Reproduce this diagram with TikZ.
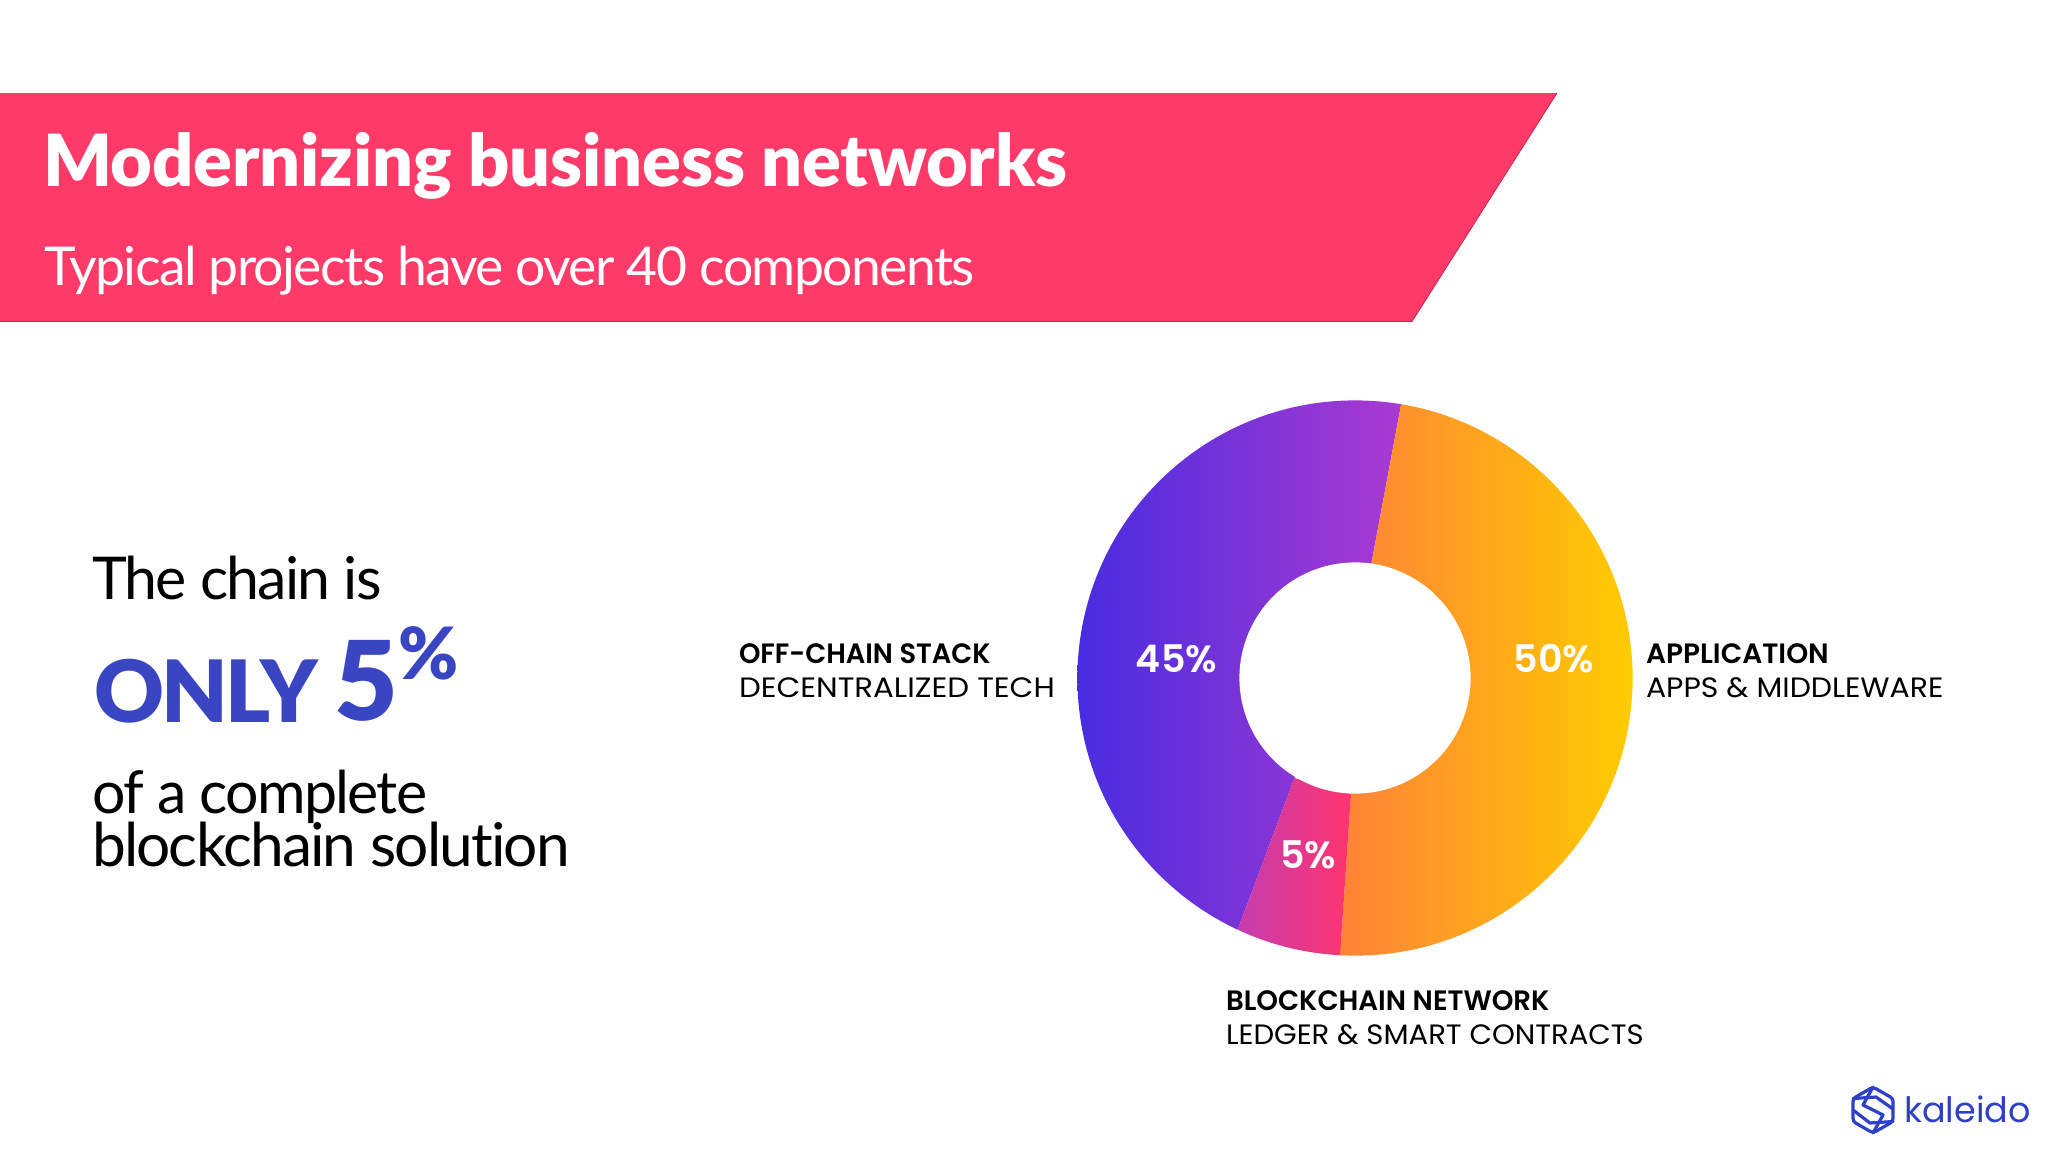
\documentclass[tikz,border=0pt]{standalone}
\usepackage{fontspec}
\setmainfont{Lato}[Ligatures=NoCommon,LetterSpace=-3]
\newfontfamily\latoblack{Lato Black}[LetterSpace=-3]
\newfontfamily\lattitle{Lato Black}[LetterSpace=-0.2]
\newfontfamily\lblfont{Poppins}[BoldFont=* SemiBold]
\usetikzlibrary{calc}
\definecolor{banner}{HTML}{FF3A68}
\definecolor{deep}{HTML}{3A45C2}
\definecolor{logoblue}{HTML}{2F40C8}
\tikzset{
  x=0.5pt,y=-0.5pt,
  txt/.style={anchor=base west,inner sep=0pt,outer sep=0pt},
  lab/.style={txt,font=\lblfont\fontsize{14}{16}\selectfont,text=black},
  labb/.style={lab,font=\lblfont\bfseries\fontsize{14}{16}\selectfont},
  pct/.style={anchor=center,inner sep=0pt,text=white,font=\lblfont\bfseries\fontsize{19}{22}\selectfont},
  logo/.style={draw=logoblue,line width=1.6pt,line join=round,line cap=round}
}
\begin{document}
\begin{tikzpicture}
\useasboundingbox (0,0) rectangle (2048,1152);
\fill[white!99.5!black] (0,0) rectangle (2048,1152);
\fill[banner] (0,93) -- (1557,93) -- (1412,321.5) -- (0,321.5) -- cycle;
\draw[banner!75!black,line width=0.4pt] (0,321.5) -- (1412,321.5) -- (1557,93);
\node[txt,text=white,font=\lattitle\fontsize{36}{40}\selectfont] (title) at (43,186.5) {Modernizing business networks};
\node[txt,text=white,font=\fontsize{26.75}{30}\selectfont] (sub) at (44,285.5) {Typical projects have over 40 components};
\node[txt,font=\fontsize{29.5}{34}\selectfont] (chain) at (92,599) {The chain is};
\node[txt,text=deep,font=\latoblack\fontsize{43}{48}\selectfont] (only) at (94,722) {ONLY};
\node[txt,text=deep,font=\latoblack\fontsize{55}{60}\selectfont] (five) at (334,720) {5};
\node[txt,text=deep,font=\latoblack\fontsize{36}{40}\selectfont] (pc) at (398,679) {\%};
\node[txt,font=\fontsize{29.5}{34}\selectfont] (of) at (92,813) {of a complete};
\node[txt,font=\fontsize{30.2}{34}\selectfont] (block) at (92,866) {blockchain solution};
% donut
\begin{scope}
\clip (1355,678) circle[radius=277.6];
\begin{scope}
\clip (1070,300) -- (1420.6,300) -- (1371.5,563) -- (1355,678) -- (1294.5,778) -- (1238,929) -- (1211.4,1000) -- (1070,1000) -- cycle;
\shade[left color={rgb,255:red,72;green,44;blue,224},right color={rgb,255:red,170;green,58;blue,208}] (1077,390) rectangle (1402,970);
\end{scope}
\begin{scope}
\clip (1420.6,300) -- (1640,300) -- (1640,1000) -- (1337,1000) -- (1351,794) -- (1355,678) -- (1371.5,563) -- cycle;
\shade[left color={rgb,255:red,255;green,130;blue,56},right color={rgb,255:red,255;green,204;blue,0}] (1340,390) rectangle (1633,970);
\end{scope}
\begin{scope}
\clip (1294.5,778) -- (1351,794) -- (1337,1000) -- (1211.4,1000) -- (1238,929) -- cycle;
\shade[left color={rgb,255:red,196;green,60;blue,176},right color={rgb,255:red,255;green,52;blue,110}] (1236,770) rectangle (1351,970);
\end{scope}
\end{scope}
\fill[white] (1355,678) circle[radius=115.6];
\node[pct] (p45) at (1176.5,659) {45\%};
\node[pct] (p50) at (1554,659) {50\%};
\node[pct] (p5) at (1308,855) {5\%};
\node[labb] (a1) at (739,663) {\addfontfeatures{FakeStretch=0.975}OFF-CHAIN STACK};
\node[lab] (a2) at (739,697) {\addfontfeatures{FakeStretch=1.10}DECENTRALIZED TECH};
\node[labb] (b1) at (1646,663) {APPLICATION};
\node[lab] (b2) at (1646,697) {\addfontfeatures{FakeStretch=1.07}APPS \& MIDDLEWARE};
\node[labb] (c1) at (1226,1010) {\addfontfeatures{FakeStretch=0.985}BLOCKCHAIN NETWORK};
\node[lab] (c2) at (1226,1044) {\addfontfeatures{FakeStretch=1.04}LEDGER \& SMART CONTRACTS};
% logo
\draw[logo,rounded corners=1.5pt] (1873,1087) -- (1893,1098.5) -- (1893,1121.5) -- (1873,1133) -- (1853,1121.5) -- (1853,1098.5) -- cycle;
\draw[logo] (1873,1087) -- (1863,1105) -- (1883,1115) -- (1873,1133);
\draw[logo] (1853,1098.5) -- (1876,1097) -- (1893,1109);
\draw[logo] (1853,1110) -- (1870,1123) -- (1893,1121.5);
\node[txt,text=logoblue,font=\lblfont\fontsize{17.5}{20}\selectfont] (kal) at (1904,1122) {kaleido};
\end{tikzpicture}
\end{document}
